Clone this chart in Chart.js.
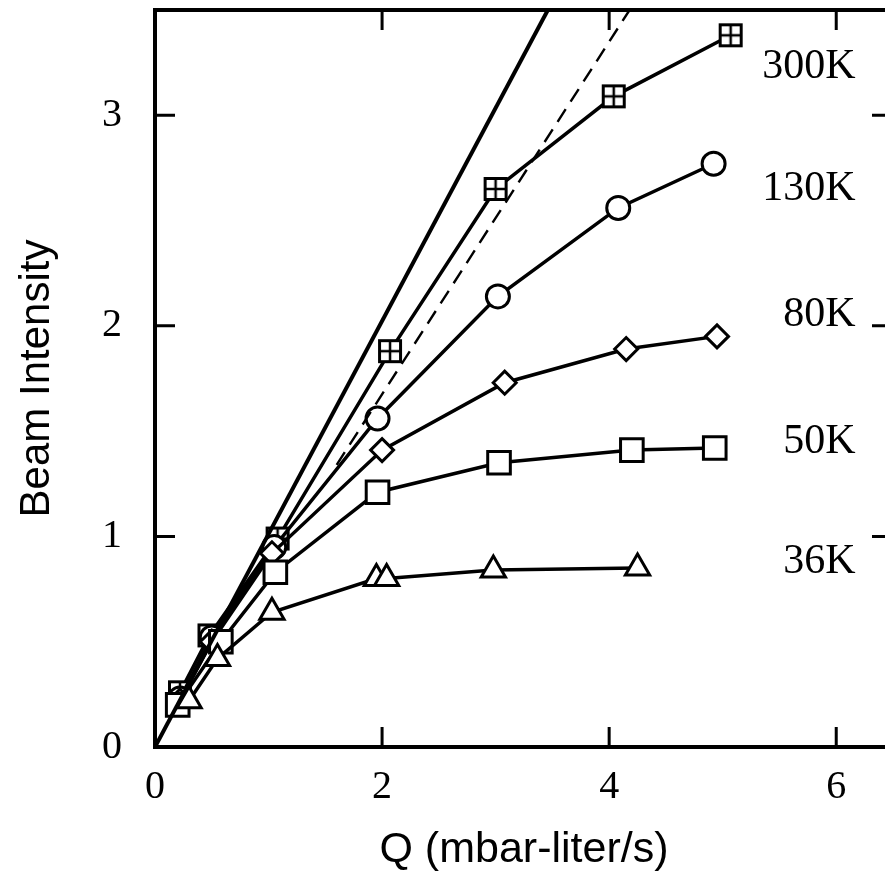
<!DOCTYPE html>
<html>
<head>
<meta charset="utf-8">
<script src="https://cdn.jsdelivr.net/npm/chart.js@4.4.1/dist/chart.umd.min.js"></script>
<style>
  html, body { margin: 0; padding: 0; background: #fff; overflow: hidden; }
  #beamChart { display: block; }
</style>
</head>
<body>
<canvas id="beamChart" width="895" height="876"></canvas>
<script>
// series names (source temperatures)
const seriesNames = ['300K', '130K', '80K', '50K', '36K'];

// gas flow Q (mbar-liter/s) and beam intensity
const q300K = [0.22, 0.48, 1.08, 2.07, 3.00, 4.04, 5.07];
const beam300K = [0.26, 0.53, 0.99, 1.88, 2.65, 3.09, 3.38];

const q130K = [0.22, 0.50, 1.05, 1.96, 3.02, 4.08, 4.92];
const beam130K = [0.23, 0.52, 0.95, 1.56, 2.14, 2.56, 2.77];

const q80K = [0.22, 0.50, 1.03, 2.00, 3.08, 4.15, 4.95];
const beam80K = [0.22, 0.50, 0.92, 1.41, 1.73, 1.89, 1.95];

const q50K = [0.20, 0.58, 1.06, 1.96, 3.03, 4.20, 4.93];
const beam50K = [0.20, 0.50, 0.83, 1.21, 1.35, 1.41, 1.42];

const q36K = [0.30, 0.55, 1.03, 1.95, 2.04, 2.98, 4.25];
const beam36K = [0.22, 0.42, 0.64, 0.80, 0.80, 0.84, 0.85];

// reference lines: solid (linear) and dashed
const linearQ = [0, 3.46];
const linearBeam = [0, 3.5];
const dashedQ = [1.6, 4.18];
const dashedBeam = [1.34, 3.5];

const xTicks = [0, 2, 4, 6];
const yTicks = [0, 1, 2, 3];

function toPoints(xs, ys) {
    return xs.map((x, i) => ({ x: x, y: ys[i] }));
}

// square with a cross inside, used for the 300K points
function makeGridSquare() {
    const c = document.createElement('canvas');
    c.width = 26;
    c.height = 26;
    const g = c.getContext('2d');
    g.fillStyle = '#fff';
    g.fillRect(2, 2, 22, 22);
    g.strokeStyle = '#000';
    g.lineWidth = 3;
    g.strokeRect(2.5, 2.5, 21, 21);
    g.lineWidth = 2.5;
    g.beginPath();
    g.moveTo(13, 3); g.lineTo(13, 23);
    g.moveTo(3, 13); g.lineTo(23, 13);
    g.stroke();
    return c;
}

const seriesStyle = {
    borderColor: '#000',
    backgroundColor: '#fff',
    pointBackgroundColor: '#fff',
    pointBorderColor: '#000',
    pointBorderWidth: 3,
    borderWidth: 3.5,
    showLine: true
};

// frame with inward ticks on all four sides
const framePlugin = {
    id: 'frame',
    afterDatasetsDraw(chart) {
        const { ctx, chartArea: a, scales: { x, y } } = chart;
        ctx.save();
        ctx.strokeStyle = '#000';
        ctx.lineWidth = 4;
        ctx.strokeRect(a.left, a.top, a.right - a.left, a.bottom - a.top);
        ctx.lineWidth = 3;
        ctx.beginPath();
        xTicks.forEach(v => {
            const px = x.getPixelForValue(v);
            ctx.moveTo(px, a.bottom); ctx.lineTo(px, a.bottom - 20);
            ctx.moveTo(px, a.top); ctx.lineTo(px, a.top + 20);
        });
        yTicks.forEach(v => {
            const py = y.getPixelForValue(v);
            ctx.moveTo(a.left, py); ctx.lineTo(a.left + 20, py);
            ctx.moveTo(a.right, py); ctx.lineTo(a.right - 21, py);
        });
        ctx.stroke();
        ctx.restore();
    }
};

// temperature labels at the right of each curve
const seriesLabelPlugin = {
    id: 'seriesLabels',
    afterDraw(chart, args, opts) {
        const { ctx, scales: { x, y } } = chart;
        ctx.save();
        ctx.font = '42px "Liberation Serif", "Times New Roman", serif';
        ctx.fillStyle = '#000';
        ctx.textAlign = 'right';
        ctx.textBaseline = 'middle';
        seriesNames.forEach((name, i) => {
            ctx.fillText(name, x.getPixelForValue(opts.anchorX), y.getPixelForValue(opts.anchorY[i]));
        });
        ctx.restore();
    }
};

const serif = '"Liberation Serif", "Times New Roman", serif';
const sans = '"Liberation Sans", Arial, sans-serif';

new Chart(document.getElementById('beamChart'), {
    type: 'scatter',
    data: {
        datasets: [
            {
                label: 'linear',
                data: toPoints(linearQ, linearBeam),
                showLine: true,
                borderColor: '#000',
                borderWidth: 4,
                pointRadius: 0
            },
            {
                label: 'dashed',
                data: toPoints(dashedQ, dashedBeam),
                showLine: true,
                borderColor: '#000',
                borderWidth: 2.4,
                borderDash: [15, 9],
                pointRadius: 0
            },
            { ...seriesStyle, label: seriesNames[4], data: toPoints(q36K, beam36K), pointStyle: 'triangle', pointRadius: 14 },
            { ...seriesStyle, label: seriesNames[3], data: toPoints(q50K, beam50K), pointStyle: 'rect', pointRadius: 16 },
            { ...seriesStyle, label: seriesNames[2], data: toPoints(q80K, beam80K), pointStyle: 'rectRot', pointRadius: 11.5 },
            { ...seriesStyle, label: seriesNames[1], data: toPoints(q130K, beam130K), pointStyle: 'circle', pointRadius: 11.5 },
            { ...seriesStyle, label: seriesNames[0], data: toPoints(q300K, beam300K), pointStyle: makeGridSquare() }
        ]
    },
    options: {
        responsive: false,
        animation: false,
        layout: { autoPadding: false, padding: { top: 10, right: 2, left: 0, bottom: 0 } },
        plugins: {
            legend: { display: false },
            tooltip: { enabled: false },
            seriesLabels: {
                anchorX: 6.17,
                anchorY: [3.23, 2.65, 2.05, 1.45, 0.88]
            }
        },
        scales: {
            x: {
                type: 'linear',
                min: 0,
                max: 6.5,
                grid: { display: false, drawTicks: false },
                border: { display: false },
                afterBuildTicks: s => { s.ticks = xTicks.map(v => ({ value: v })); },
                afterFit: s => { s.height = 129; s.paddingLeft = 0; s.paddingRight = 0; },
                ticks: {
                    padding: 16,
                    color: '#000',
                    font: { family: serif, size: 40 }
                },
                title: {
                    display: true,
                    text: 'Q (mbar-liter/s)',
                    color: '#000',
                    font: { family: sans, size: 43 },
                    padding: { top: 0, bottom: 0 }
                }
            },
            y: {
                min: 0,
                max: 3.5,
                grid: { display: false, drawTicks: false },
                border: { display: false },
                afterBuildTicks: s => { s.ticks = yTicks.map(v => ({ value: v })); },
                afterFit: s => { s.width = 155; s.paddingTop = 0; s.paddingBottom = 0; },
                ticks: {
                    padding: 33,
                    color: '#000',
                    font: { family: serif, size: 40 }
                },
                title: {
                    display: true,
                    text: 'Beam Intensity',
                    color: '#000',
                    font: { family: sans, size: 42 },
                    padding: { top: 12, bottom: 0 }
                }
            }
        }
    },
    plugins: [framePlugin, seriesLabelPlugin]
});
</script>
</body>
</html>
